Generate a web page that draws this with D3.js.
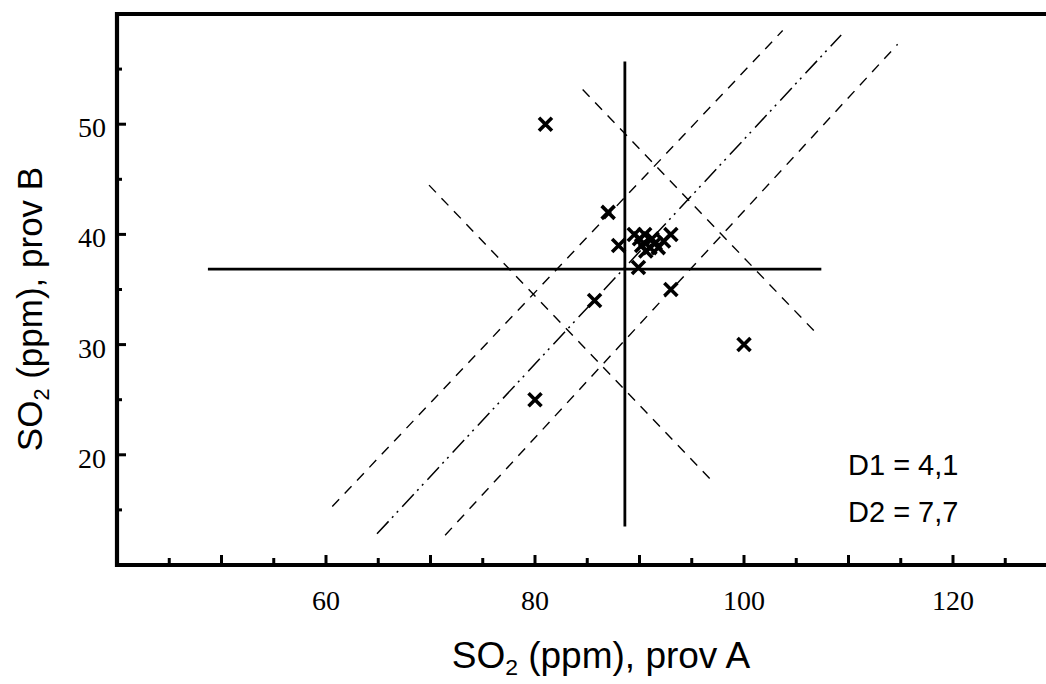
<!DOCTYPE html>
<html>
<head>
<meta charset="utf-8">
<script src="https://cdn.jsdelivr.net/npm/d3@7"></script>
<style>
  html, body { margin: 0; padding: 0; background: #fff; }
  svg { display: block; }
</style>
</head>
<body>
<svg id="chart" width="1046" height="684"></svg>
<script>
// SO2 measured on sample A (x) vs sample B (y)
const sampleA = [81, 87, 88, 89.9, 93, 85.7, 100, 80,
                 89.5, 90.5, 91.2, 90.2, 90.6, 91.0, 91.8, 92.3, 93.0, 90.0, 91.5];
const sampleB = [50, 42, 39, 37, 35, 34, 30, 25,
                 40, 40, 39.6, 39.0, 38.5, 38.8, 38.8, 39.4, 40.0, 39.6, 39.2];

// Medians of the two samples
const medianA = 88.6;
const medianB = 36.85;

// Reference lines, as end points in data units
const verticalLine   = [[medianA, 13.5], [medianA, 55.7]];
const horizontalLine = [[48.7, medianB], [107.4, medianB]];
const diagonalLine   = [[64.88, 12.83], [109.3, 58.1]];
const upperBand      = [[60.6, 15.3], [103.7, 58.5]];
const lowerBand      = [[71.4, 12.7], [114.7, 57.25]];
const perpUpper      = [[84.56, 53.15], [106.9, 31.05]];
const perpLower      = [[69.86, 44.47], [96.84, 17.72]];

// Axis ticks
const xTicks = [45, 50, 55, 60, 65, 70, 75, 80, 85, 90, 95, 100, 105, 110, 115, 120, 125];
const xTickLabels = [60, 80, 100, 120];
const yTicks = [15, 20, 25, 30, 35, 40, 45, 50, 55];
const yTickLabels = [20, 30, 40, 50];

const annotations = ["D1 = 4,1", "D2 = 7,7"];

const svg = d3.select("#chart");

const x = d3.scaleLinear().domain([40, 130]).range([117, 117 + 90 * 10.45]);
const y = d3.scaleLinear().domain([10, 60]).range([565, 14]);

const line = d3.line().x(d => x(d[0])).y(d => y(d[1]));

// Frame: left axis, bottom axis, top border
const frame = svg.append("g").attr("stroke", "#000").attr("stroke-width", 4.2).attr("fill", "none");
frame.append("line").attr("x1", x(40)).attr("x2", x(40)).attr("y1", y(60) - 2).attr("y2", y(10) + 2);
frame.append("line").attr("x1", x(40) - 2).attr("x2", 1046).attr("y1", y(10)).attr("y2", y(10));
frame.append("line").attr("x1", x(40) - 2).attr("x2", 1046).attr("y1", y(60)).attr("y2", y(60));

// Inward ticks
const ticks = svg.append("g").attr("stroke", "#000").attr("stroke-width", 3);
ticks.selectAll(".xt").data(xTicks).join("line")
  .attr("x1", d => x(d)).attr("x2", d => x(d))
  .attr("y1", y(10)).attr("y2", d => y(10) - (d % 10 === 0 ? 10 : 7));
ticks.selectAll(".yt").data(yTicks).join("line")
  .attr("y1", d => y(d)).attr("y2", d => y(d))
  .attr("x1", x(40)).attr("x2", d => x(40) + (d % 10 === 0 ? 9 : 5));

// Tick labels
const tickFont = "'Liberation Serif', 'Times New Roman', serif";
svg.append("g").selectAll("text").data(xTickLabels).join("text")
  .attr("x", d => x(d)).attr("y", 610)
  .attr("text-anchor", "middle")
  .attr("font-family", tickFont).attr("font-size", 28)
  .text(d => d);
svg.append("g").selectAll("text").data(yTickLabels).join("text")
  .attr("x", 106).attr("y", d => y(d) + 13)
  .attr("text-anchor", "end")
  .attr("font-family", tickFont).attr("font-size", 28)
  .text(d => d);

// Reference lines
const refs = svg.append("g").attr("fill", "none").attr("stroke", "#000");
refs.append("path").datum(verticalLine).attr("d", line).attr("stroke-width", 2.8);
refs.append("path").datum(horizontalLine).attr("d", line).attr("stroke-width", 2.8);
refs.append("path").datum(diagonalLine).attr("d", line)
  .attr("stroke-width", 1.5).attr("stroke-dasharray", "17,5,2,5,2,6");
[upperBand, lowerBand, perpUpper, perpLower].forEach(seg => {
  refs.append("path").datum(seg).attr("d", line)
    .attr("stroke-width", 1.4).attr("stroke-dasharray", "10,8");
});

// Points drawn as crosses
const pts = sampleA.map((a, i) => [a, sampleB[i]]);
const r = 6.5;
svg.append("g").selectAll("path").data(pts).join("path")
  .attr("transform", d => `translate(${x(d[0])},${y(d[1])})`)
  .attr("d", `M${-r},${-r}L${r},${r}M${-r},${r}L${r},${-r}`)
  .attr("stroke", "#000").attr("stroke-width", 3.6).attr("fill", "none");

// Annotations
const sans = "'Liberation Sans', Arial, sans-serif";
svg.append("g").selectAll("text").data(annotations).join("text")
  .attr("x", 848).attr("y", (d, i) => 475 + i * 47)
  .attr("font-family", sans).attr("font-size", 29)
  .text(d => d);

// Axis titles
function title(g, suffix) {
  g.append("tspan").text("SO");
  g.append("tspan").attr("font-size", "62%").attr("dy", 7).text("2");
  g.append("tspan").attr("dy", -7).text(" (ppm), " + suffix);
}
const xt = svg.append("text")
  .attr("x", 601).attr("y", 668)
  .attr("text-anchor", "middle")
  .attr("font-family", sans).attr("font-size", 37);
title(xt, "prov A");

const yt = svg.append("text")
  .attr("transform", "translate(42,309) rotate(-90)")
  .attr("text-anchor", "middle")
  .attr("font-family", sans).attr("font-size", 35);
title(yt, "prov B");
</script>
</body>
</html>
